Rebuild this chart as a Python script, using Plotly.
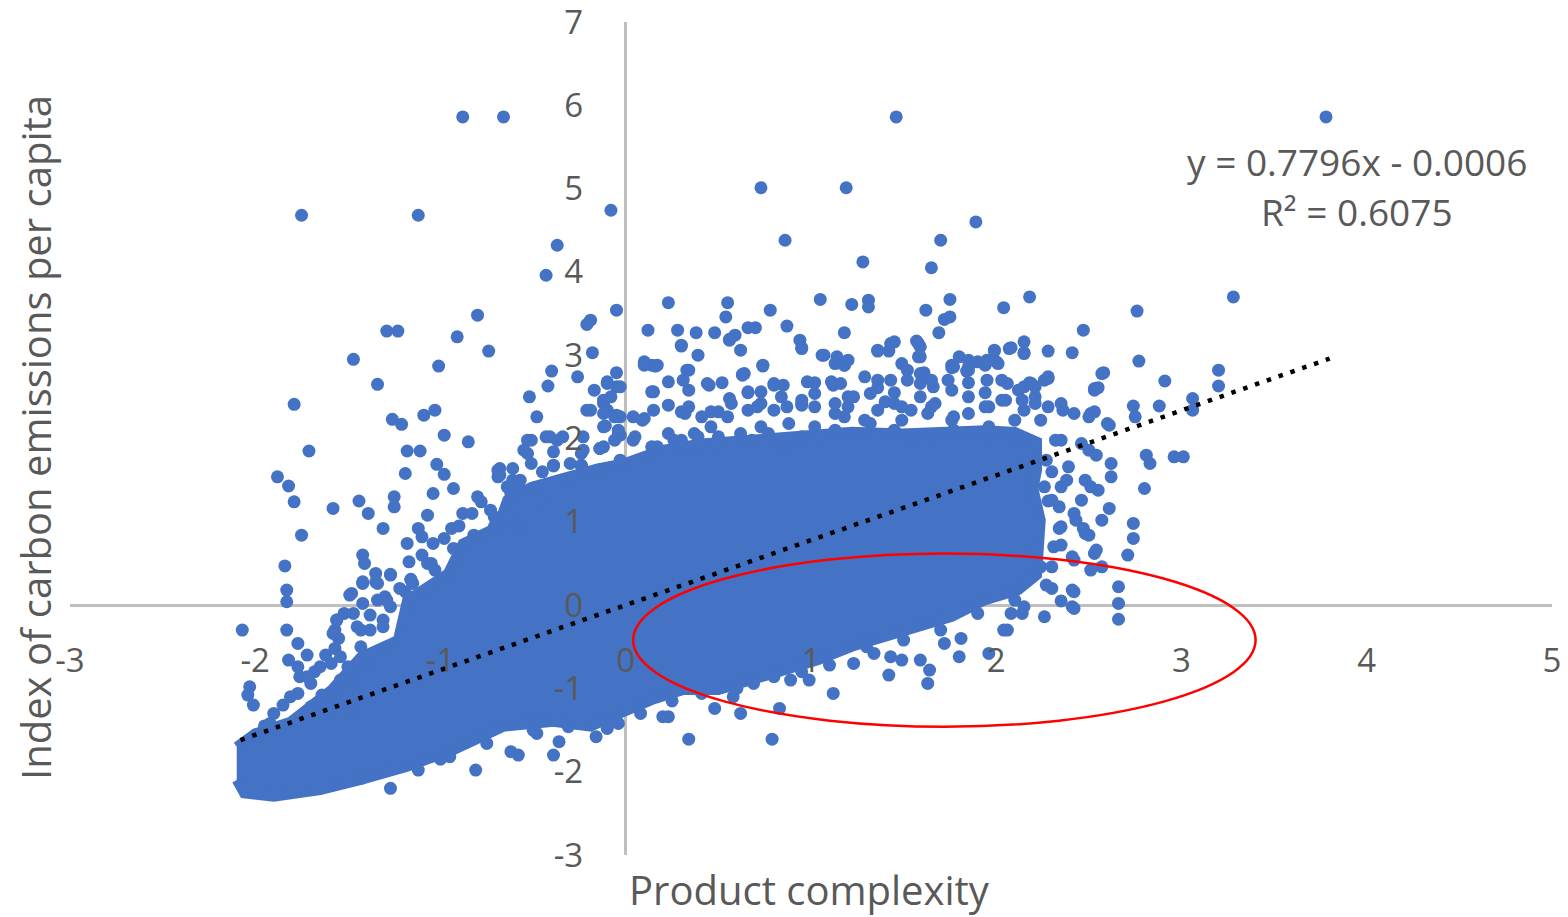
import plotly.graph_objects as go

# ---------------- data ----------------
# dense core of the cloud (boundary of the fully covered area)
core_x = [-2.10, -2.06, -1.90, -1.65, -1.43, -1.18, -0.93, -0.66, -0.39, -0.19, -0.03, 0.14, 0.31,
          0.50, 0.68, 0.85, 1.04, 1.22, 1.39, 1.58, 1.76, 1.94, 2.12, 2.22, 2.24, 2.20, 2.22, 2.22,
          2.10, 1.94, 1.76, 1.49, 1.22, 0.95, 0.68, 0.41, 0.19, 0.05, -0.01, -0.15, -0.34, -0.51,
          -0.64, -0.69, -0.88, -0.96, -1.18, -1.23, -1.43, -1.59, -1.81, -2.00, -2.10]
core_y = [-2.10, -2.26, -2.30, -2.22, -2.10, -1.94, -1.74, -1.46, -1.40, -1.46, -1.30, -1.14, -1.02,
          -1.02, -0.90, -0.78, -0.66, -0.50, -0.38, -0.26, -0.14, 0.06, 0.18, 0.36, 1.02, 1.40,
          1.62, 1.96, 2.08, 2.10, 2.08, 2.06, 2.08, 2.04, 2.00, 1.94, 1.86, 1.76, 1.70, 1.64, 1.54,
          1.42, 1.26, 0.94, 0.74, 0.38, 0.06, -0.42, -0.62, -1.02, -1.40, -1.54, -1.70]

top_outliers = [(-0.88, 5.86), (-0.66, 5.86), (-1.75, 4.68), (-1.12, 4.68), (-0.08, 4.74),
                (-0.37, 4.32), (-0.43, 3.96), (1.46, 5.86), (3.78, 5.86), (0.73, 5.01),
                (1.19, 5.01), (1.89, 4.60), (1.70, 4.38), (0.86, 4.38), (1.28, 4.12),
                (1.65, 4.05), (-0.05, 3.54), (3.28, 3.70), (-0.80, 3.48), (-0.19, 3.42)]

upper_band = [(0.23, 3.63), (0.55, 3.63), (0.78, 3.54), (1.05, 3.67), (1.22, 3.61), (1.31, 3.66),
              (1.31, 3.58), (1.62, 3.54), (1.75, 3.67), (2.04, 3.57), (2.18, 3.70), (1.75, 3.46),
              (1.72, 3.43), (1.69, 3.27), (2.47, 3.30), (2.41, 3.03), (2.28, 3.05), (2.15, 3.03),
              (2.15, 3.16), (2.08, 3.09), (1.99, 3.05), (2.00, 2.92), (1.90, 2.92), (1.80, 2.98),
              (1.76, 2.85), (1.84, 2.81), (1.57, 3.17), (1.59, 3.10), (1.58, 2.98), (1.45, 3.16),
              (1.42, 3.05), (1.36, 3.05), (1.18, 3.27), (1.14, 2.98), (1.18, 2.88), (1.07, 3.00),
              (0.94, 3.18), (0.95, 3.09), (0.87, 3.35), (0.74, 2.87), (0.63, 2.77), (0.62, 3.06),
              (0.56, 3.19), (0.54, 3.46), (0.48, 3.27), (0.39, 3.00), (0.38, 3.27), (0.30, 3.11),
              (0.28, 3.30), (0.12, 3.30), (0.10, 2.92), (0.16, 2.87), (0.34, 2.82), (0.66, 3.33),
              (0.70, 3.33), (-0.05, 2.79), (0.59, 3.24),
              (0.14, 2.88), (0.74, 2.88), (0.23, 2.68), (0.34, 2.58), (0.15, 2.56), (0.45, 2.64),
              (0.52, 2.67), (0.56, 2.48), (0.23, 2.40), (0.15, 2.34), (0.09, 2.22), (-0.05, 2.28),
              (-0.12, 2.42), (-0.12, 1.90), (0.04, 1.98), (0.34, 2.38), (0.41, 2.26), (0.50, 2.32),
              (0.66, 2.55), (0.80, 2.64), (0.84, 2.50), (0.95, 2.40), (1.02, 2.67), (1.12, 2.64),
              (1.20, 2.50), (1.29, 2.74), (1.36, 2.61), (1.45, 2.55), (1.52, 2.70), (1.61, 2.79),
              (1.66, 2.62), (1.77, 2.86), (1.85, 2.67), (1.94, 2.55), (2.03, 2.70), (2.12, 2.58),
              (2.21, 2.62), (2.28, 2.74), (2.35, 2.42), (2.42, 2.30), (2.53, 2.58), (2.15, 2.34),
              (1.96, 2.14), (1.77, 2.26), (1.63, 2.30), (1.49, 2.22), (1.32, 2.18), (1.18, 2.26),
              (1.02, 2.14), (0.88, 2.18), (0.73, 2.14), (0.62, 2.06), (0.50, 2.02), (0.37, 2.06),
              (0.26, 1.98), (0.17, 1.90), (-0.04, 2.10), (-0.03, 1.74), (-0.14, 1.62)]

mid_band = [(0.10, 2.88), (0.17, 2.88), (1.13, 2.90), (1.18, 2.88), (1.49, 2.90), (1.76, 2.88),
            (1.85, 2.86), (1.94, 2.88), (2.01, 2.90), (-0.05, 2.62), (0.64, 2.78), (0.85, 2.64),
            (0.98, 2.68), (1.16, 2.66), (1.59, 2.66), (1.74, 2.70), (2.15, 2.62), (2.26, 2.70),
            (-0.10, 2.34), (-0.03, 2.26), (0.32, 2.30), (0.46, 2.14), (0.57, 2.42), (0.66, 2.34),
            (0.73, 2.42), (0.80, 2.34), (0.87, 2.38), (0.95, 2.46), (1.02, 2.38), (1.13, 2.30),
            (1.20, 2.38), (1.29, 2.22), (1.36, 2.34), (1.45, 2.42), (1.54, 2.34), (1.65, 2.38),
            (1.76, 2.22), (1.85, 2.30), (1.96, 2.38), (2.05, 2.46), (2.10, 2.22), (2.21, 2.42),
            (2.28, 2.38), (2.51, 2.30),
            (-0.06, 1.98), (0.05, 2.02), (0.14, 1.90), (0.23, 2.06), (0.30, 1.98), (0.39, 2.02),
            (0.48, 1.94), (0.68, 1.98), (0.77, 2.06), (0.84, 1.90), (0.95, 2.02), (1.04, 2.02),
            (1.13, 2.10), (1.23, 2.06), (1.34, 2.02), (1.45, 2.10), (1.56, 1.98), (1.67, 2.02),
            (1.77, 2.10), (1.88, 2.06), (1.99, 1.94), (2.10, 2.02), (2.35, 1.98), (2.46, 1.94),
            (0.30, 3.12), (0.56, 3.18), (0.95, 3.08), (1.06, 3.00), (1.20, 2.94), (1.36, 3.06),
            (1.43, 3.14), (1.58, 3.14), (1.59, 2.98), (1.85, 2.94), (1.95, 2.94), (1.99, 3.06),
            (2.07, 3.08), (2.15, 3.02),
            (0.33, 2.82), (0.31, 2.70), (0.44, 2.66), (0.63, 2.76), (0.80, 2.66), (1.11, 2.68),
            (1.36, 2.70), (1.43, 2.70), (1.52, 2.82), (1.59, 2.78), (1.65, 2.70), (1.85, 2.82),
            (1.95, 2.70), (2.06, 2.66), (2.19, 2.66), (2.28, 2.72), (2.57, 2.78), (-0.10, 2.66),
            (0.14, 2.56), (0.30, 2.32), (0.46, 2.32), (0.55, 2.26), (0.66, 2.56), (0.73, 2.56),
            (0.71, 2.38), (0.95, 2.42), (1.02, 2.54), (1.13, 2.42), (1.23, 2.50), (1.32, 2.54),
            (1.40, 2.44), (1.49, 2.38), (1.59, 2.50), (1.67, 2.42), (1.76, 2.58), (1.85, 2.50),
            (1.94, 2.38), (2.03, 2.46), (2.21, 2.50), (2.53, 2.60), (2.60, 2.18), (-0.12, 2.30),
            (0.04, 2.26), (0.10, 2.24), (-0.08, 2.50)]

right_band = [(2.39, 1.66), (2.35, 1.42), (2.46, 1.26), (2.35, 0.94), (2.48, 0.86), (2.31, 0.70),
              (2.42, 0.54), (2.24, 0.46), (2.41, 0.18), (2.41, -0.02), (2.53, 0.62), (2.51, 1.42),
              (2.50, 1.86),
              (2.76, 3.53), (2.77, 2.93), (2.58, 2.79), (3.20, 2.82), (3.20, 2.63), (2.91, 2.69),
              (2.55, 2.61), (2.18, 2.67), (3.06, 2.48), (3.06, 2.34), (2.88, 2.39), (2.74, 2.39),
              (2.75, 2.26), (2.53, 2.32), (2.61, 2.16), (2.50, 2.26), (2.36, 2.34), (2.81, 1.80),
              (2.83, 1.70), (2.96, 1.78), (3.01, 1.78), (2.80, 1.40), (2.61, 1.16), (2.74, 0.98),
              (2.74, 0.80), (2.71, 0.60), (2.54, 0.66), (2.57, 0.46), (2.34, 0.92), (2.50, 0.84),
              (2.41, 0.58), (2.66, 0.22), (2.66, 0.02), (2.66, -0.17), (2.42, 0.16), (2.42, -0.04),
              (2.26, -0.14), (2.62, 1.70), (2.62, 1.54), (2.55, 1.38), (2.48, 1.50), (2.26, 1.42),
              (2.34, 1.18), (2.42, 1.10), (2.47, 0.92), (2.21, 0.70), (2.30, 0.46), (2.17, 0.30),
              (2.10, 0.06), (2.06, -0.30), (2.14, -0.10), (2.30, 1.60), (2.28, 1.25),
              (2.30, 0.20), (2.35, 0.05),
              (2.14, 2.46), (2.24, 2.22), (2.32, 1.98), (2.27, 1.74), (2.38, 1.50), (2.30, 1.26),
              (2.43, 1.02), (2.35, 0.72), (2.51, 0.42), (2.27, 0.24), (2.57, 1.02), (2.54, 1.80)]

lower_band = [(2.04, -0.30), (2.15, -0.02), (2.08, -0.10), (1.96, -0.58), (1.80, -0.62),
              (1.81, -0.40), (1.72, -0.46), (1.63, -0.94), (1.64, -0.78), (1.59, -0.66),
              (1.42, -0.84), (1.43, -0.62), (1.49, -0.66), (1.50, -0.42), (1.34, -0.58),
              (1.23, -0.70), (1.12, -1.06), (0.99, -0.90), (0.89, -0.90), (0.80, -0.86),
              (0.69, -0.94), (0.62, -1.30), (0.83, -1.24), (0.79, -1.61), (0.34, -1.61),
              (0.23, -1.34), (0.20, -1.34), (0.48, -1.24), (0.08, -1.30), (0.58, -1.10),
              (0.41, -1.06), (-0.04, -1.42), (-0.10, -1.48),
              (-1.27, -2.20), (-0.95, -1.82), (-0.81, -1.98), (-0.62, -1.76), (-0.58, -1.80),
              (-0.39, -1.80), (-0.36, -1.64), (-0.16, -1.58), (-0.10, -1.46), (-0.31, -1.46),
              (-0.48, -1.54), (-0.75, -1.66), (-1.12, -1.98), (-1.43, -2.08),
              (1.90, -0.10), (1.70, -0.30), (1.30, -0.50), (1.10, -0.72), (0.95, -0.80),
              (0.60, -1.00), (0.25, -1.15), (-0.50, -1.50), (-1.00, -1.85)]

left_band = [(-2.07, -0.30), (-1.83, 0.18), (-1.83, 0.04), (-1.83, -0.30), (-1.77, -0.46),
             (-1.82, -0.66), (-1.72, -0.60), (-2.03, -0.98), (-2.04, -1.08), (-2.01, -1.20),
             (-1.90, -1.30), (-1.76, -0.86), (-1.77, -1.06), (-1.65, -0.74), (-1.57, -0.52),
             (-1.57, -0.30), (-1.49, 0.12), (-1.42, 0.26), (-1.34, 0.26), (-1.47, -0.10),
             (-1.43, -0.30), (-1.31, -0.18), (-1.34, 0.06), (-1.27, -0.02), (-1.19, 0.16),
             (-1.15, 0.26), (-1.64, -1.08), (-1.70, -0.94), (-1.50, -0.74), (-1.54, -0.90),
             (-0.21, 3.37), (-1.29, 3.29), (-1.23, 3.29), (-0.91, 3.22), (-0.74, 3.05),
             (-0.18, 3.03), (-1.47, 2.95), (-1.01, 2.87), (-0.26, 2.74), (-0.40, 2.81),
             (-0.42, 2.63), (-0.10, 2.68), (-0.17, 2.58), (-0.03, 2.62), (-1.34, 2.65),
             (-0.52, 2.50), (-1.79, 2.41), (-1.09, 2.28), (-1.03, 2.34), (-1.26, 2.23),
             (-1.21, 2.17), (-0.48, 2.26), (-0.21, 2.34), (-0.12, 2.46), (-0.06, 2.26),
             (-0.11, 2.15), (-0.98, 2.04), (-0.85, 1.96), (-1.71, 1.85), (-1.18, 1.85),
             (-1.11, 1.85), (-0.03, 2.04), (-0.23, 2.02), (-0.53, 1.98), (-0.43, 2.02),
             (-0.37, 1.98), (-0.14, 1.88), (-0.39, 1.84), (-0.53, 1.82), (-0.24, 1.82),
             (-1.02, 1.69), (-0.98, 1.57), (-1.88, 1.54), (-1.82, 1.43), (-1.79, 1.24),
             (-1.19, 1.58), (-0.68, 1.64), (-0.39, 1.67), (-0.24, 1.67), (-0.61, 1.64),
             (-0.51, 1.70), (-0.93, 1.40), (-1.04, 1.34), (-1.25, 1.30), (-1.58, 1.16),
             (-1.44, 1.25), (-1.39, 1.10), (-1.25, 1.18), (-0.83, 1.10), (-0.78, 1.24),
             (-1.07, 1.08), (-1.75, 0.84), (-1.31, 0.92), (-1.12, 0.92), (-0.94, 0.92),
             (-1.18, 0.74), (-1.04, 0.74), (-0.93, 0.68), (-1.42, 0.60), (-1.17, 0.52),
             (-1.07, 0.50), (-1.03, 0.42), (-1.27, 0.36), (-1.16, 0.31), (-1.35, 0.28),
             (-1.42, 0.28), (-1.84, 0.47), (-1.48, 0.14), (-0.64, 1.42), (-0.69, 1.54),
             (-0.61, 1.50), (-0.71, 1.06), (-0.62, 1.34), (-0.82, 0.84), (-0.71, 0.94),
             (-0.88, 1.10), (-0.98, 0.80), (-1.10, 0.60), (-1.22, 0.20), (-1.38, -0.12),
             (-1.55, -0.40), (-1.68, -0.80), (-1.85, -1.20), (-1.95, -1.45), (-0.45, 1.60),
             (-0.30, 1.70), (-0.80, 1.30), (-0.90, 0.95), (-1.30, 0.10), (-1.62, -0.60),
             (-1.41, 0.50), (-1.35, 0.38), (-1.27, 0.37), (-1.16, 0.30), (-1.05, 0.50),
             (-1.42, 0.02), (-1.29, 0.06), (-1.56, -0.18), (-1.52, -0.10), (-1.45, -0.26),
             (-1.38, -0.30), (-1.31, -0.26), (-1.58, -0.34), (-1.10, 0.82), (-0.69, 1.62),
             (-0.68, 1.56), (-0.57, 1.50), (-0.55, 1.86), (-0.51, 1.98), (-0.41, 2.02),
             (-0.34, 2.02), (-0.39, 1.68), (-0.24, 1.68), (-0.23, 1.86), (-0.14, 1.88),
             (-0.12, 2.14), (-0.19, 2.34), (-0.04, 2.06), (-0.58, 1.42), (-0.62, 1.30),
             (-0.73, 1.14), (-0.64, 1.06), (-0.57, 0.94), (-0.46, 1.26),
             (-1.77, -0.74), (-1.72, -0.86), (-1.59, -0.70), (-1.54, -0.62), (-1.50, -1.02),
             (-1.47, -0.90), (-1.59, -1.30), (-1.70, -1.22), (-1.81, -1.10), (-1.92, -1.42),
             (-1.56, -0.18), (-1.43, -0.50), (-1.39, -0.74), (-1.47, -1.34)]

trend_x = [-2.08, 3.80]
trend_y = [-1.62, 2.96]

circle_x = [0.04, 3.40]
circle_y = [-1.46, 0.62]

x_ticks = [-3, -2, -1, 0, 1, 2, 3, 4, 5]
x_tick_text = ["-3", "-2", "-1", "0", "1", "2", "3", "4", "5"]
y_ticks = [-3, -2, -1, 0, 1, 2, 3, 4, 5, 6, 7]
y_tick_text = ["-3", "-2", "-1", "0", "1", "2", "3", "4", "5", "6", "7"]

eq_text = "y = 0.7796x - 0.0006"
r2_text = "R² = 0.6075"
x_title = "Product complexity"
y_title = "Index of carbon emissions per capita"

# ---------------- figure ----------------
BLUE = "#4472C4"
GRAY = "#595959"
FONT = "Open Sans"

pts = top_outliers + upper_band + mid_band + right_band + lower_band + left_band
pts_x = [p[0] for p in pts]
pts_y = [p[1] for p in pts]

fig = go.Figure()
fig.add_trace(go.Scatter(x=core_x, y=core_y, mode="lines", fill="toself",
                         fillcolor=BLUE, line=dict(color=BLUE, width=10),
                         hoverinfo="skip", showlegend=False))
fig.add_trace(go.Scatter(x=pts_x, y=pts_y, mode="markers",
                         marker=dict(color=BLUE, size=13, line=dict(width=0)),
                         showlegend=False))
fig.add_trace(go.Scatter(x=trend_x, y=trend_y, mode="lines",
                         line=dict(color="black", width=4.5, dash="4.5px,8px"),
                         showlegend=False))

fig.add_shape(type="circle", xref="x", yref="y",
              x0=circle_x[0], x1=circle_x[1], y0=circle_y[0], y1=circle_y[1],
              line=dict(color="#FF0000", width=2.5))

fig.add_annotation(x=3.95, y=5.32, xref="x", yref="y", text=eq_text, showarrow=False,
                   font=dict(family=FONT, size=37, color=GRAY))
fig.add_annotation(x=3.95, y=4.72, xref="x", yref="y", text=r2_text, showarrow=False,
                   font=dict(family=FONT, size=37, color=GRAY))
fig.add_annotation(x=0.4993, y=-0.042, xref="paper", yref="paper", text=x_title,
                   showarrow=False, yanchor="middle",
                   font=dict(family=FONT, size=40, color=GRAY))
fig.add_annotation(x=-0.0236, y=0.5006, xref="paper", yref="paper", text=y_title,
                   showarrow=False, textangle=-90, xanchor="center", yanchor="middle",
                   font=dict(family=FONT, size=40, color=GRAY))

# the page body has an 8px default margin, so the figure is sized to fit the window
fig.update_layout(
    width=1560, height=909,
    margin=dict(l=62, r=16, t=14, b=62, autoexpand=False),
    paper_bgcolor="white", plot_bgcolor="white",
    showlegend=False,
    xaxis=dict(range=[-3, 5], tickvals=x_ticks, ticktext=x_tick_text,
               showgrid=False, showline=False, zeroline=True, automargin=False,
               zerolinecolor="#BFBFBF", zerolinewidth=3,
               anchor="free", position=0.3, ticklabeloverflow="allow",
               ticks="outside", ticklen=26, tickcolor="rgba(0,0,0,0)",
               tickfont=dict(family=FONT, size=33, color=GRAY)),
    yaxis=dict(range=[-3, 7], tickvals=y_ticks, ticktext=y_tick_text,
               showgrid=False, showline=False, zeroline=True, automargin=False,
               zerolinecolor="#BFBFBF", zerolinewidth=3,
               anchor="free", position=0.375, ticklabeloverflow="allow",
               ticks="outside", ticklen=36, tickcolor="rgba(0,0,0,0)",
               tickfont=dict(family=FONT, size=33, color=GRAY)),
)

fig.write_html("out.html")
